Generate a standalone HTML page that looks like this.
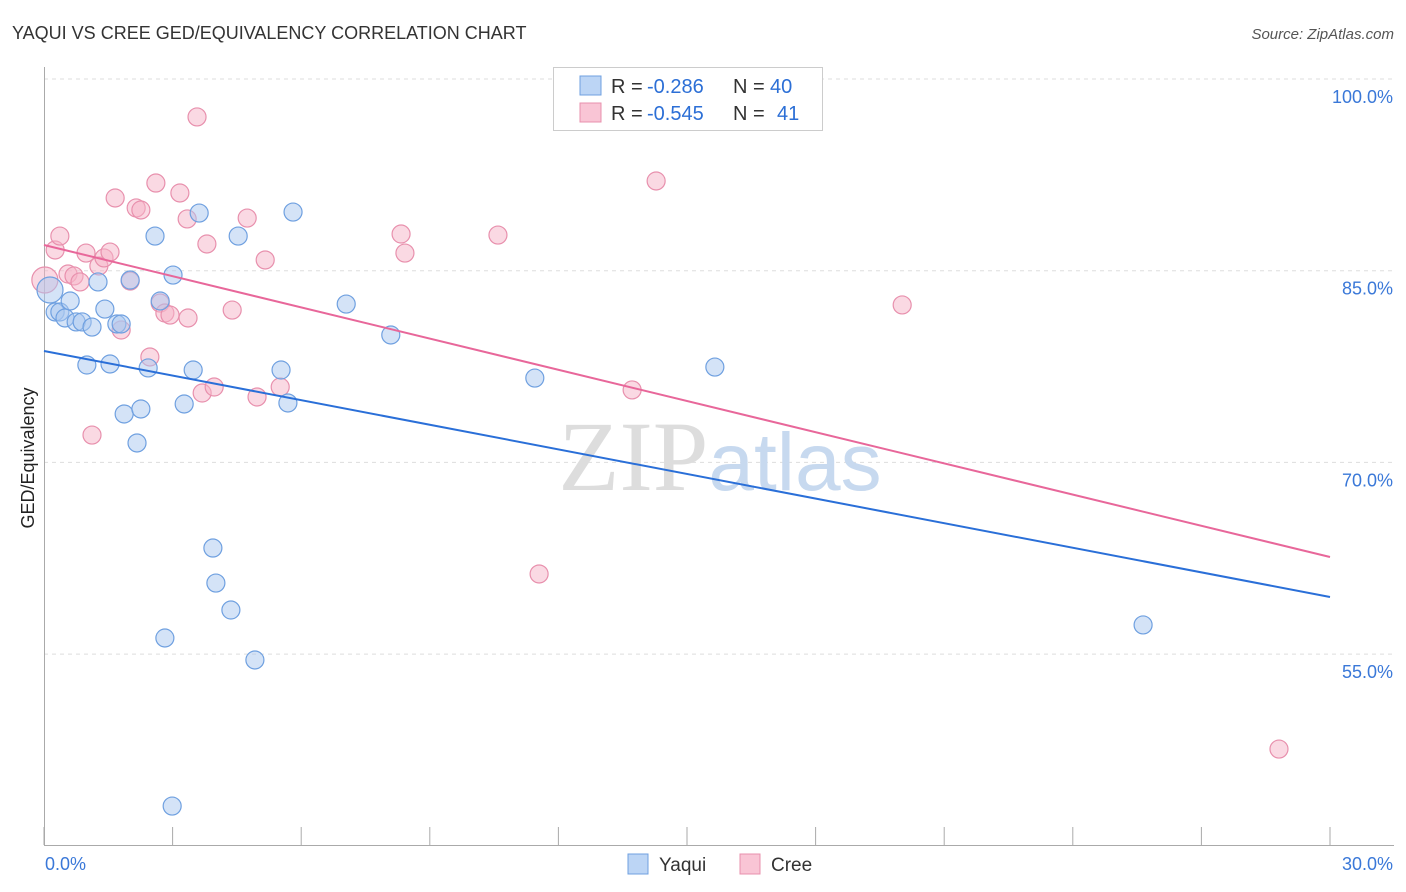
<!DOCTYPE html>
<html><head><meta charset="utf-8"><style>
body{margin:0;background:#fff;font-family:"Liberation Sans",sans-serif;}
svg{display:block}
</style></head><body>
<svg id="chart" width="1406" height="892">
<text x="12" y="39" font-size="18" fill="#333">YAQUI VS CREE GED/EQUIVALENCY CORRELATION CHART</text>
<text x="1394" y="39" font-size="15" fill="#555" text-anchor="end" font-style="italic">Source: ZipAtlas.com</text>
<g id="grid"></g>
<text x="720" y="490" font-size="100" fill="#ddd" text-anchor="middle" font-family="Liberation Serif,serif">ZIP<tspan fill="#c7d9ef" font-family="Liberation Sans,sans-serif" font-size="82">atlas</tspan></text>
<text transform="translate(34,458) rotate(-90)" font-size="18" fill="#222" text-anchor="middle">GED/Equivalency</text>
<g id="marks"></g>
<g>
<rect x="553.5" y="67.5" width="269" height="63" fill="#fff" stroke="#ccc"/>
<rect x="580" y="76" width="21" height="19" fill="#bcd5f5" stroke="#6fa0e0"/>
<rect x="580" y="103" width="21" height="19" fill="#f9c5d5" stroke="#e890ad"/>
<g font-size="20" fill="#333">
<text x="611" y="93">R =</text>
<text x="647" y="93" fill="#2c6fd6">-0.286</text>
<text x="733" y="93">N =</text>
<text x="770" y="93" fill="#2c6fd6">40</text>
<text x="611" y="120">R =</text>
<text x="647" y="120" fill="#2c6fd6">-0.545</text>
<text x="733" y="120">N =</text>
<text x="777" y="120" fill="#2c6fd6">41</text>
</g>
</g>
<g>
<rect x="628" y="854" width="20" height="20" fill="#bcd5f5" stroke="#6fa0e0"/>
<text x="659" y="871" font-size="19" fill="#333">Yaqui</text>
<rect x="740" y="854" width="20" height="20" fill="#f9c5d5" stroke="#e890ad"/>
<text x="771" y="871" font-size="19" fill="#333">Cree</text>
</g>
</svg>
<script>
const yTicks=[100,85,70,55];
const yTickLabels=["100.0%","85.0%","70.0%","55.0%"];
const xTickLabels=["0.0%","30.0%"];
const yaquiX=[0.14,0.26,0.37,0.49,0.61,0.75,0.89,1.12,1.00,1.26,1.42,1.54,1.70,1.80,1.87,2.01,2.17,2.26,2.43,2.59,2.71,2.82,2.99,3.01,3.27,3.48,3.62,3.94,4.01,4.36,4.53,4.92,5.53,5.69,5.81,7.05,8.09,11.45,15.65,25.64];
const yaquiY=[83.49,81.77,81.77,81.30,82.63,80.99,80.99,80.59,77.62,84.12,82.00,77.70,80.83,80.83,73.79,84.27,71.52,74.18,77.39,87.71,82.63,56.26,43.11,84.66,74.57,77.23,89.51,63.30,60.56,58.45,87.71,54.54,77.23,74.65,89.59,82.39,79.97,76.60,77.46,57.28];
const creeX=[0.02,0.26,0.37,0.56,0.70,0.84,0.98,1.12,1.28,1.40,1.54,1.66,1.80,2.01,2.15,2.26,2.47,2.61,2.71,2.82,2.94,3.17,3.34,3.36,3.57,3.69,3.80,3.97,4.39,4.74,4.97,5.16,5.51,8.33,8.42,10.59,11.55,13.72,14.28,20.02,28.81];
const creeY=[84.27,86.62,87.71,84.74,84.59,84.12,86.38,72.14,85.37,86.0,86.46,90.69,80.36,84.19,89.91,89.75,78.25,91.86,82.47,81.69,81.53,91.08,89.05,81.30,97.03,75.43,87.09,75.90,81.92,89.12,75.12,85.84,75.90,87.87,86.38,87.79,61.27,75.67,92.02,82.32,47.57];
const yaquiTrend=[78.72,59.47];
const creeTrend=[87.01,62.60];
const X0=44,X1=1330,Y100=79,PXPER=191.7/15;
const sx=v=>X0+(v/30)*(X1-X0);
const sy=v=>Y100+(100-v)*PXPER;
const NS="http://www.w3.org/2000/svg";
function mk(t,a,p){const e=document.createElementNS(NS,t);for(const k in a)e.setAttribute(k,a[k]);p.appendChild(e);return e;}
const grid=document.getElementById('grid');
yTicks.forEach((v,i)=>{
 const l=mk('line',{x1:44,x2:1394,y1:sy(v),y2:sy(v),stroke:'#ddd','stroke-dasharray':'4,4'},grid);
 
 
 const t=mk('text',{x:1393,y:sy(v)+24,'font-size':18,fill:'#3a78d8','text-anchor':'end'},grid);
 t.textContent=yTickLabels[i];
 
 
});
const ax=mk('line',{x1:44.5,x2:44.5,y1:67,y2:845,stroke:'#aaa'},grid);


const bx=mk('line',{x1:44,x2:1394,y1:845.5,y2:845.5,stroke:'#aaa'},grid);


for(let i=0;i<=10;i++){
 const tk=mk('line',{x1:sx(i*3),x2:sx(i*3),y1:827,y2:845,stroke:'#aaa'},grid);
 
 
}
[[0,'start',45],[30,'end',1393]].forEach((d,i)=>{
 const t=mk('text',{x:d[2],y:870,'font-size':18,fill:'#3a78d8','text-anchor':d[1]},grid);
 t.textContent=xTickLabels[i];
 
 
});
const marks=document.getElementById('marks');
function pts(xs,ys,fill,stroke,name){
 xs.forEach((x,i)=>{
  const r=i===0?13:9;
  const c=mk('circle',{cx:sx(x),cy:sy(ys[i]),r:r,fill:fill,'fill-opacity':0.5,stroke:stroke,'stroke-width':1.2},marks);
  
  
 });
}
pts(creeX,creeY,'#f5b3c8','#e890ad','cree');
pts(yaquiX,yaquiY,'#a9c8f0','#6fa0e0','yaqui');
const l1=mk('line',{x1:sx(0),y1:sy(yaquiTrend[0]),x2:sx(30),y2:sy(yaquiTrend[1]),stroke:'#2a6fd8','stroke-width':2},marks);


const l2=mk('line',{x1:sx(0),y1:sy(creeTrend[0]),x2:sx(30),y2:sy(creeTrend[1]),stroke:'#e8679a','stroke-width':2},marks);


</script>
</body></html>
